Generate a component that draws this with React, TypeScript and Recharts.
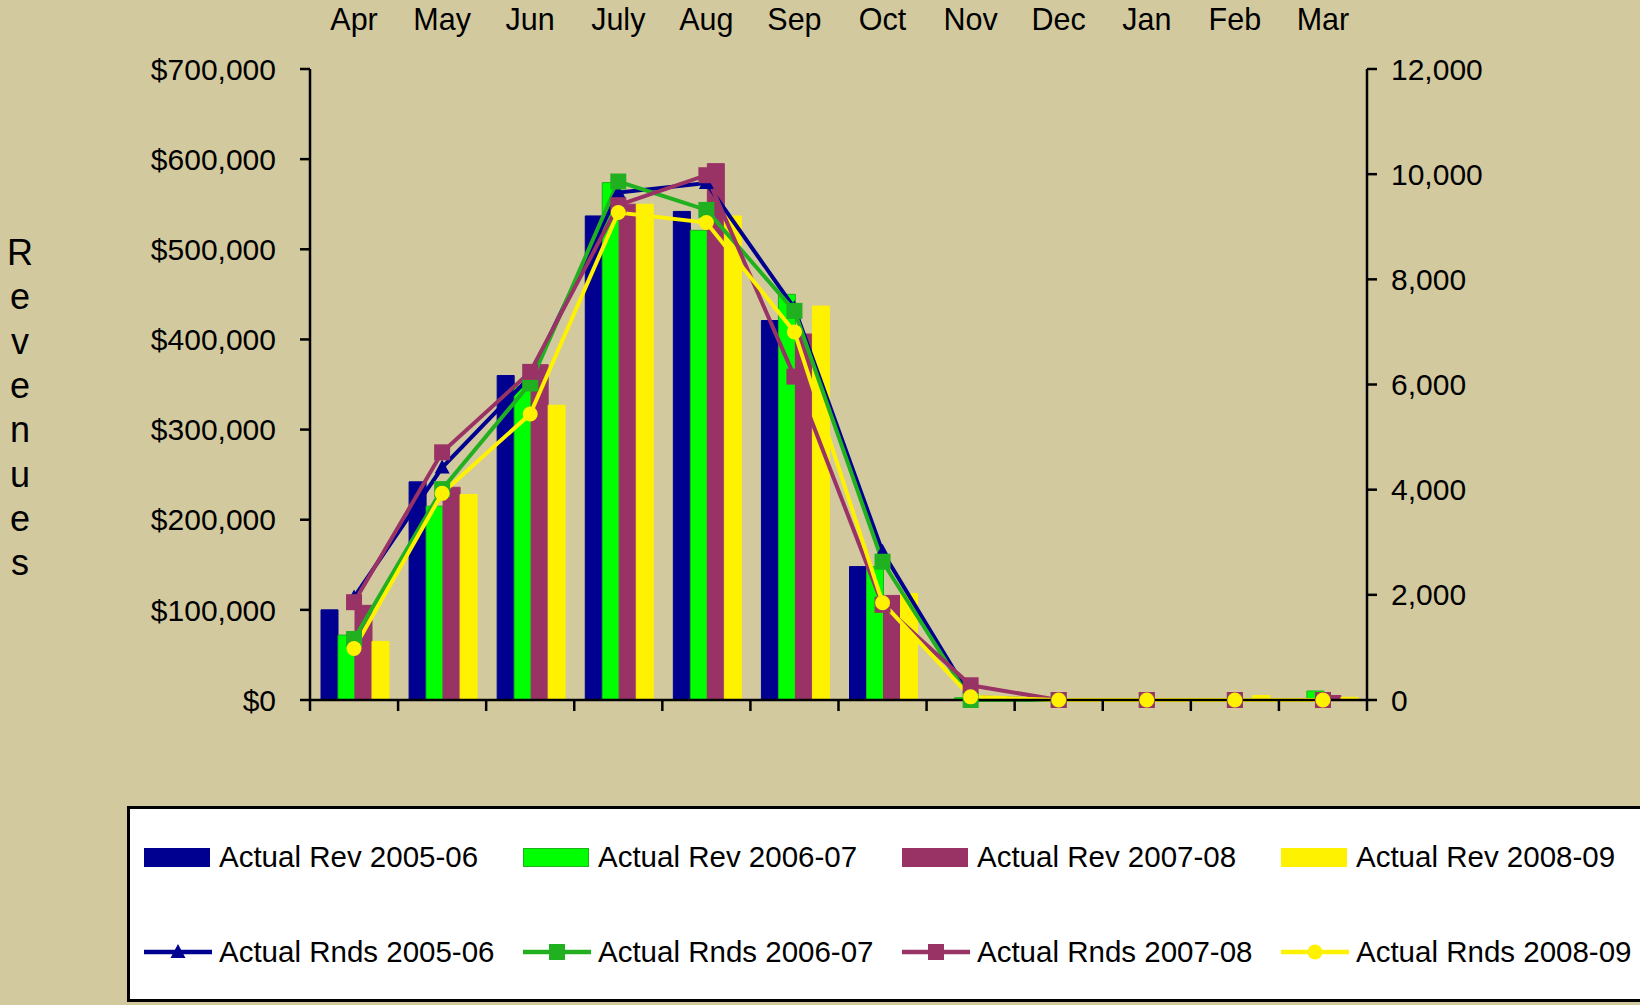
import { Bar, ComposedChart, Legend, Line, XAxis, YAxis } from 'recharts'

const months = ['Apr', 'May', 'Jun', 'July', 'Aug', 'Sep', 'Oct', 'Nov', 'Dec', 'Jan', 'Feb', 'Mar']

// revenues ($), left axis
const rev0506 = [100000, 242000, 360000, 537000, 542000, 421000, 148000, 500, 0, 0, 0, 0]
const rev0607 = [72000, 215000, 348000, 574000, 521000, 450000, 148000, 2500, 0, 0, 0, 10000]
const rev0708 = [105000, 236000, 372000, 550000, 595000, 406000, 116000, 1000, 0, 0, 0, 5000]
const rev0809 = [65000, 228000, 327000, 550000, 537000, 437000, 118000, 3500, 0, 0, 5000, 3000]

// rounds, right axis
const rnds0506 = [1950, 4420, 6150, 9650, 9830, 7450, 2820, 50, 0, 0, 0, 0]
const rnds0607 = [1160, 4010, 6020, 9860, 9320, 7400, 2630, 0, 0, 0, 0, 0]
const rnds0708 = [1860, 4710, 6240, 9410, 9980, 6150, 1810, 280, 0, 0, 0, 0]
const rnds0809 = [980, 3930, 5440, 9270, 9080, 7000, 1850, 60, 0, 0, 0, 0]

const revTicks = [0, 100000, 200000, 300000, 400000, 500000, 600000, 700000]
const rndsTicks = [0, 2000, 4000, 6000, 8000, 10000, 12000]

const BG = '#D3C99F'
const FONT = '"Liberation Sans", Arial, sans-serif'

const barSeries = [
  { key: 'rev0506', name: 'Actual Rev 2005-06', color: '#000090', edge: '#000090', values: rev0506 },
  { key: 'rev0607', name: 'Actual Rev 2006-07', color: '#00FF00', edge: '#1EB01E', values: rev0607 },
  { key: 'rev0708', name: 'Actual Rev 2007-08', color: '#993366', edge: '#993366', values: rev0708 },
  { key: 'rev0809', name: 'Actual Rev 2008-09', color: '#FFF200', edge: '#FFF200', values: rev0809 },
]

const lineSeries = [
  { key: 'rnds0506', name: 'Actual Rnds 2005-06', color: '#000090', marker: 'triangle', values: rnds0506 },
  { key: 'rnds0607', name: 'Actual Rnds 2006-07', color: '#20B020', marker: 'square', values: rnds0607 },
  { key: 'rnds0708', name: 'Actual Rnds 2007-08', color: '#993366', marker: 'square', values: rnds0708 },
  { key: 'rnds0809', name: 'Actual Rnds 2008-09', color: '#FFF200', marker: 'circle', values: rnds0809 },
]

const data = months.map((month, i) => {
  const row: Record<string, string | number> = { month }
  barSeries.forEach((s) => (row[s.key] = s.values[i]))
  lineSeries.forEach((s) => (row[s.key] = s.values[i]))
  return row
})

function marker(kind: string, cx: number, cy: number, color: string, key?: string) {
  if (kind === 'triangle') {
    return <path key={key} d={`M${cx},${cy - 8}L${cx + 7.5},${cy + 6}L${cx - 7.5},${cy + 6}Z`} fill={color} />
  }
  if (kind === 'square') {
    return <rect key={key} x={cx - 8} y={cy - 8} width={16} height={16} fill={color} />
  }
  return <circle key={key} cx={cx} cy={cy} r={7.5} fill={color} />
}

// Excel style: tick marks sit between the categories, not on them
function BoundaryTick(props: any) {
  const { x, y, payload, index, visibleTicksCount, width } = props
  const half = typeof payload?.offset === 'number' && payload.offset > 0 ? payload.offset : width / visibleTicksCount / 2
  const xs = [x - half]
  if (index === visibleTicksCount - 1) xs.push(x + half)
  return (
    <g>
      {xs.map((bx, i) => (
        <line key={i} x1={bx} x2={bx} y1={y} y2={y + 11} stroke="#000" strokeWidth={2.5} />
      ))}
    </g>
  )
}

function RevenuesLabel() {
  const letters = 'Revenues'.split('')
  return (
    <text fontFamily={FONT} fontSize={36} fill="#000" textAnchor="middle">
      {letters.map((ch, i) => (
        <tspan key={i} x={20} y={265 + i * 44.3}>
          {ch}
        </tspan>
      ))}
    </text>
  )
}

function LegendBox() {
  return (
    <div
      style={{
        position: 'relative',
        width: 1540,
        height: 196,
        background: '#fff',
        border: '3px solid #000',
        boxSizing: 'border-box',
        fontFamily: FONT,
        fontSize: 29.5,
        color: '#000',
        whiteSpace: 'nowrap',
      }}
    >
      {barSeries.map((s, i) => (
        <div
          key={s.key}
          style={{ position: 'absolute', left: 14 + i * 379, top: 30, height: 36, display: 'flex', alignItems: 'center' }}
        >
          <span
            style={{ width: 66, height: 19, background: s.color, boxSizing: 'border-box', border: `1.5px solid ${s.edge}` }}
          />
          <span style={{ marginLeft: 9 }}>{s.name}</span>
        </div>
      ))}
      {lineSeries.map((s, i) => (
        <div
          key={s.key}
          style={{ position: 'absolute', left: 14 + i * 379, top: 125, height: 36, display: 'flex', alignItems: 'center' }}
        >
          <svg width={68} height={20} style={{ display: 'block' }}>
            <line x1={0} y1={10} x2={68} y2={10} stroke={s.color} strokeWidth={4.5} strokeLinecap="round" />
            {marker(s.marker, 34, 10, s.color)}
          </svg>
          <span style={{ marginLeft: 7 }}>{s.name}</span>
        </div>
      ))}
    </div>
  )
}

const axisStroke = { stroke: '#000', strokeWidth: 2.5 }
const tickText = { fill: '#000', fontSize: 30, fontFamily: FONT }

export default function App() {
  return (
    <div
      style={{ position: 'absolute', left: 0, top: 0, width: 1640, height: 1005, overflow: 'hidden', background: BG }}
    >
      <ComposedChart
        width={1640}
        height={1005}
        data={data}
        margin={{ top: 29, right: 153, bottom: 285, left: 190 }}
        barCategoryGap={11}
        barGap={0}
      >
        <XAxis
          xAxisId="cat"
          dataKey="month"
          orientation="top"
          height={40}
          axisLine={false}
          tickLine={false}
          tickSize={0}
          tickMargin={39}
          interval={0}
          tick={{ ...tickText, fontSize: 30.5 }}
        />
        <XAxis
          xAxisId="base"
          dataKey="month"
          height={20}
          interval={0}
          tickSize={0}
          tickMargin={0}
          tickLine={false}
          axisLine={axisStroke}
          tick={<BoundaryTick />}
        />
        <YAxis
          yAxisId="rev"
          width={120}
          domain={[0, 700000]}
          ticks={revTicks}
          interval={0}
          tickSize={10}
          tickMargin={24}
          tickFormatter={(v: number) => `$${v.toLocaleString('en-US')}`}
          axisLine={axisStroke}
          tickLine={axisStroke}
          tick={tickText}
          label={{ content: () => <RevenuesLabel /> }}
        />
        <YAxis
          yAxisId="rnds"
          orientation="right"
          width={120}
          domain={[0, 12000]}
          ticks={rndsTicks}
          interval={0}
          tickSize={10}
          tickMargin={14}
          tickFormatter={(v: number) => v.toLocaleString('en-US')}
          axisLine={axisStroke}
          tickLine={axisStroke}
          tick={{ ...tickText, textAnchor: 'start' }}
        />

        {barSeries.map((s) => (
          <Bar
            key={s.key}
            xAxisId="cat"
            yAxisId="rev"
            dataKey={s.key}
            name={s.name}
            fill={s.color}
            stroke={s.edge}
            strokeWidth={1}
            isAnimationActive={false}
          />
        ))}

        {lineSeries.map((s) => (
          <Line
            key={s.key}
            xAxisId="cat"
            yAxisId="rnds"
            type="linear"
            dataKey={s.key}
            name={s.name}
            stroke={s.color}
            strokeWidth={4}
            dot={(p: any) => marker(s.marker, p.cx, p.cy, s.color, `${s.key}-${p.index}`)}
            activeDot={false}
            isAnimationActive={false}
          />
        ))}

        <Legend
          layout="vertical"
          align="center"
          verticalAlign="middle"
          wrapperStyle={{ left: 127, top: 806, width: 1540, height: 196 }}
          content={() => <LegendBox />}
        />
      </ComposedChart>
    </div>
  )
}
